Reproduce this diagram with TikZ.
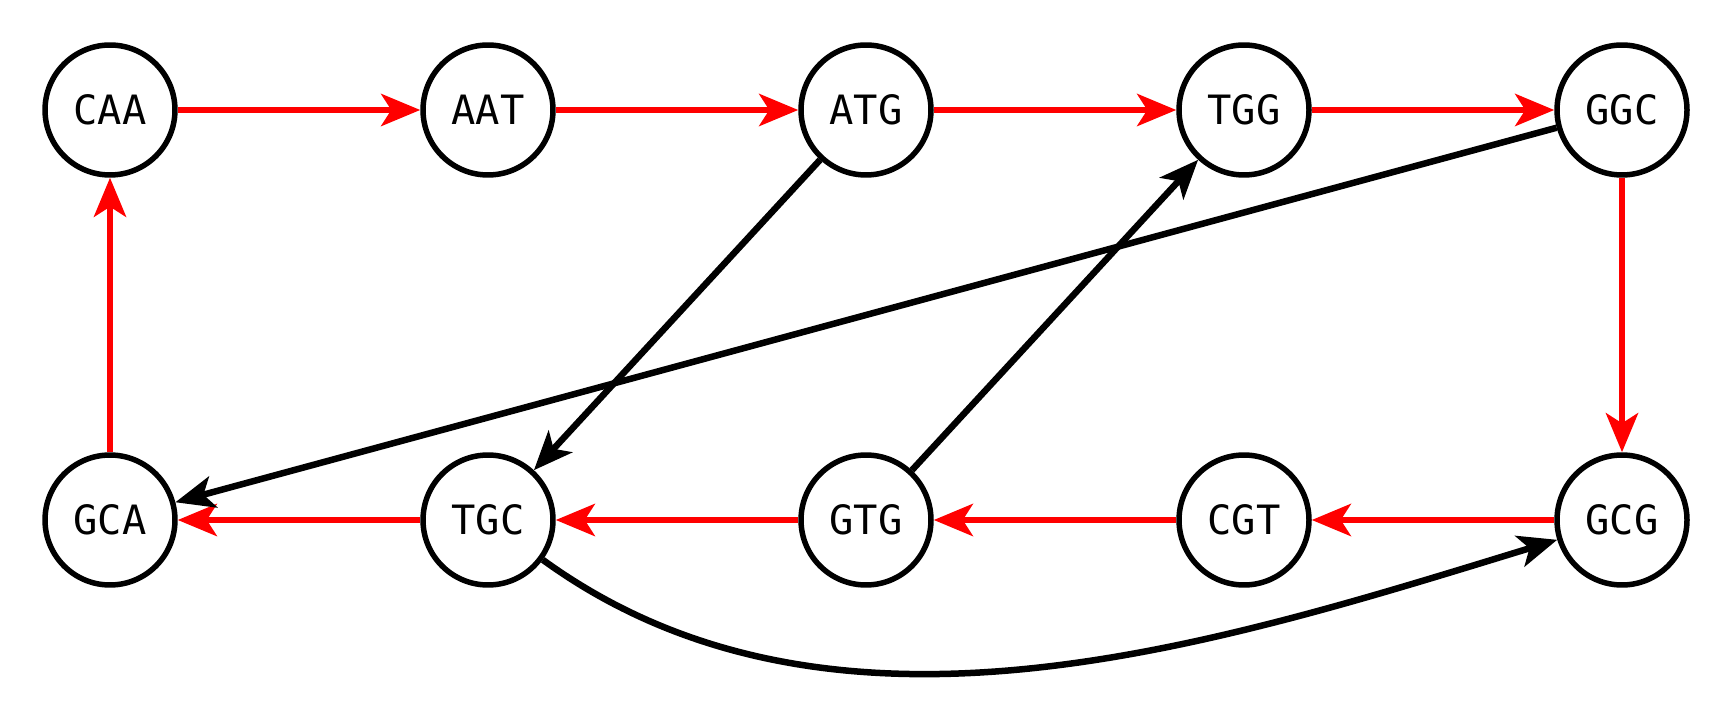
\documentclass[tikz,border=0pt]{standalone}
\usepackage{fontspec}
\setmonofont{DejaVu Sans Mono}
\usetikzlibrary{arrows.meta}

\begin{document}
\begin{tikzpicture}[x=0.02cm,y=-0.02cm]
\useasboundingbox (0,0) rectangle (1733,722);
\begin{scope}[every node/.style={circle,draw,line width=0.11cm,minimum size=2.6cm,inner sep=0pt,
              font=\ttfamily\fontsize{23}{23}\selectfont}]
    \node (CAA) at (110,110) {CAA};
    \node (AAT) at (488,110) {AAT};
    \node (ATG) at (866,110) {ATG};
    \node (TGG) at (1244,110) {TGG};
    \node (GGC) at (1622,110) {GGC};
    \node (GCA) at (110,520) {GCA};
    \node (TGC) at (488,520) {TGC};
    \node (GTG) at (866,520) {GTG};
    \node (CGT) at (1244,520) {CGT};
    \node (GCG) at (1622,520) {GCG};
\end{scope}

\begin{scope}[>={Stealth[length=0.78cm,width=0.64cm,inset=0.2cm]},
              every edge/.style={draw=red,line width=0.13cm}]
    \path [->] (CAA) edge (AAT);
    \path [->] (AAT) edge (ATG);
    \path [->] (ATG) edge (TGG);
    \path [->] (TGG) edge (GGC);
    \path [->] (GGC) edge (GCG);
    \path [->] (GCG) edge (CGT);
    \path [->] (CGT) edge (GTG);
    \path [->] (GTG) edge (TGC);
    \path [->] (TGC) edge (GCA);
    \path [->] (GCA) edge (CAA);
\end{scope}

\begin{scope}[>={Stealth[length=0.78cm,width=0.64cm,inset=0.2cm]},
              every edge/.style={draw=black,line width=0.13cm}]
    \path [->] (GGC) edge (GCA);
    \path [->] (ATG) edge (TGC);
    \path [->] (GTG) edge (TGG);
    \path [->] (TGC) edge [out=-36,in=197,looseness=0.9] (GCG);
\end{scope}
\end{tikzpicture}
\end{document}
